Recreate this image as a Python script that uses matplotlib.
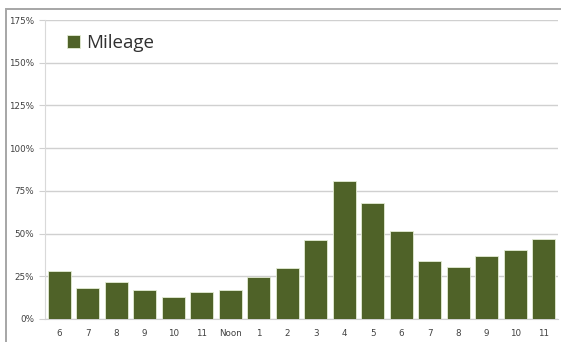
import matplotlib
matplotlib.use("Agg")
import matplotlib.pyplot as plt
from matplotlib.patches import Rectangle
from matplotlib.ticker import FixedLocator

hours = ["6", "7", "8", "9", "10", "11", "Noon", "1", "2", "3", "4", "5",
         "6", "7", "8", "9", "10", "11"]
mileage = [28.3, 18.0, 21.8, 16.8, 12.9, 15.8, 17.0, 24.8, 30.0, 46.0,
           80.8, 67.9, 51.5, 34.0, 30.6, 36.7, 40.6, 46.8]
y_ticks = [0, 25, 50, 75, 100, 125, 150, 175]
y_labels = ["0%", "25%", "50%", "75%", "100%", "125%", "150%", "175%"]

W, H = 561, 342
fig = plt.figure(figsize=(W / 100, H / 100), dpi=100)
fig.patch.set_facecolor("white")

# outer chart frame
fig.patches.append(Rectangle((6 / W, -0.1), 1.2, 1 - 9 / H + 0.1,
                             transform=fig.transFigure, fill=False,
                             edgecolor="#a6a6a6", linewidth=1.4))

ax = fig.add_axes([45 / W, 1 - 319 / H, (558 - 45) / W, (319 - 20) / H])
x = range(len(hours))
ax.bar(x, mileage, width=0.8, color="#4f6228", edgecolor="#e4ecd4",
       linewidth=0.6, zorder=3, label="Mileage")

ax.set_xlim(-0.5, len(hours) - 0.5)
ax.set_ylim(0, 175)
ax.yaxis.set_major_locator(FixedLocator(y_ticks))
ax.set_yticklabels(y_labels)
ax.set_xticks(list(x))
ax.set_xticklabels(hours)
ax.grid(axis="y", color="#d0d0d0", linewidth=1.0, zorder=0)
for s in ["top", "right"]:
    ax.spines[s].set_visible(False)
ax.spines["left"].set_color("#d9d9d9")
ax.spines["bottom"].set_color("#d0d0d0")
ax.tick_params(axis="y", length=4, color="#d0d0d0", labelsize=6.3,
               labelcolor="#404040", pad=4)
ax.tick_params(axis="x", length=0, labelsize=6.3, labelcolor="#404040", pad=7)

leg = ax.legend(loc="upper left", bbox_to_anchor=(0.017, 0.997), frameon=False,
                prop={"family": "Open Sans", "size": 13.5}, handlelength=0.7,
                handleheight=0.7, handletextpad=0.35, borderpad=0.2)
for t in leg.get_texts():
    t.set_color("#303030")

fig.savefig("out.png", dpi=100)
